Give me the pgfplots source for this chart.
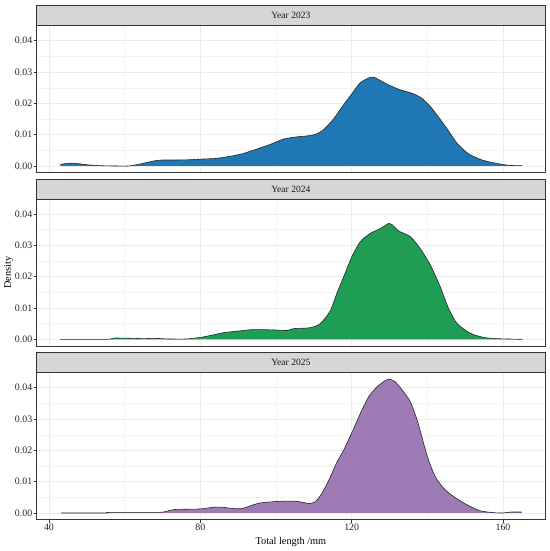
\documentclass[border=0pt]{standalone}
\usepackage{fontspec}
\setmainfont{Liberation Serif}
\usepackage{pgfplots}
\usepackage{pgfplotstable}
\pgfplotsset{compat=1.18}
\definecolor{cA}{HTML}{1F77B4}
\definecolor{cB}{HTML}{1F9D55}
\definecolor{cC}{HTML}{9E7BB5}
\definecolor{stripc}{HTML}{D6D6D6}
\definecolor{frame}{HTML}{333333}
\definecolor{gmaj}{HTML}{EBEBEB}
\definecolor{gmin}{HTML}{F3F3F3}

\pgfplotstableread{
x y
43.0 0.0005
45.5 0.0009
48.0 0.0007
50.0 0.0004
53.5 0.0001
57.0 0.0000
61.0 0.0000
64.0 0.0006
67.6 0.0016
69.8 0.0019
73.0 0.0019
77.3 0.0020
80.0 0.0022
83.9 0.0024
87.9 0.0031
91.4 0.0040
94.9 0.0054
98.5 0.0069
102.0 0.0086
105.5 0.0093
108.2 0.0096
110.4 0.0101
112.6 0.0116
115.2 0.0150
117.9 0.0196
120.0 0.0230
122.3 0.0266
124.9 0.0283
126.2 0.0282
128.9 0.0264
132.4 0.0245
136.0 0.0232
138.6 0.0216
141.2 0.0184
144.8 0.0126
147.9 0.0072
151.0 0.0038
154.5 0.0019
158.0 0.0009
161.6 0.0002
165.1 0.0001
}\tA

\pgfplotstableread{
x y
43.0 0.0000
55.3 0.0000
57.3 0.0004
62.3 0.0003
65.0 0.0002
67.4 0.0003
70.0 0.0002
71.5 0.0001
76.4 0.0001
80.0 0.0006
82.6 0.0012
86.1 0.0021
90.5 0.0027
94.0 0.0031
99.3 0.0030
102.9 0.0028
104.6 0.0034
109.0 0.0037
111.7 0.0050
114.3 0.0090
116.1 0.0147
117.9 0.0200
120.1 0.0265
122.3 0.0312
124.9 0.0338
127.6 0.0354
129.8 0.0370
130.6 0.0367
132.4 0.0346
135.5 0.0328
138.1 0.0290
140.8 0.0237
143.4 0.0168
145.6 0.0099
147.8 0.0051
151.4 0.0019
154.9 0.0006
158.5 0.0002
165.1 0.0000
}\tB

\pgfplotstableread{
x y
43.2 0.0000
55.0 0.0000
56.0 0.0002
69.0 0.0002
71.5 0.0007
73.1 0.0011
76.0 0.0012
80.0 0.0013
83.9 0.0019
86.1 0.0018
88.8 0.0014
91.0 0.0014
93.2 0.0023
95.8 0.0032
99.3 0.0036
102.9 0.0038
105.5 0.0037
107.5 0.0033
108.8 0.0030
110.4 0.0036
112.1 0.0062
114.3 0.0113
116.0 0.0160
117.9 0.0201
120.1 0.0258
122.3 0.0318
124.5 0.0371
126.7 0.0403
128.9 0.0423
130.0 0.0427
131.5 0.0419
133.7 0.0387
135.5 0.0355
137.3 0.0297
139.0 0.0223
140.3 0.0169
142.1 0.0116
144.3 0.0079
147.0 0.0052
150.5 0.0026
154.0 0.0007
157.6 0.0001
160.0 0.0000
162.0 0.0003
165.0 0.0003
}\tC

\pgfplotsset{
  facet/.style={
    scale only axis, width=508.3bp, height=147bp,
    xmin=36.75, xmax=171.1, ymin=-0.00214, ymax=0.0448,
    clip=false,
    xtick={40,80,120,160}, minor xtick={60,100,140},
    ytick={0,0.01,0.02,0.03,0.04}, minor ytick={0.005,0.015,0.025,0.035},
    xtick pos=bottom, ytick pos=left,
    scaled y ticks=false,
    yticklabel style={/pgf/number format/.cd, fixed, fixed zerofill, precision=2, /tikz/.cd},
    /pgf/number format/assume math mode=true,
    grid=both,
    major grid style={draw=gmaj, line width=0.7bp},
    minor grid style={draw=gmin, line width=0.4bp},
    axis line style={draw=frame, line width=0.9bp},
    tick align=outside,
    major tick length=3bp, minor tick length=0pt,
    tick style={draw=frame, line width=0.7bp},
    ticklabel style={font=\fontsize{9.9}{11}\selectfont, text=black!85},
    yticklabel style={anchor=east, inner sep=0pt, xshift=-1.3bp},
    xticklabel style={anchor=north, inner sep=0pt, yshift=-1.5bp},
  },
}
\newcommand{\drawstrip}[1]{%
  \draw[fill=stripc, draw=frame, line width=0.9bp] (rel axis cs:0,1) rectangle ([yshift=20bp]rel axis cs:1,1);
  \node[font=\fontsize{9.6}{11}\selectfont, text=black!90] at ([yshift=10bp]rel axis cs:0.5,1) {#1};
}

\begin{document}
\begin{tikzpicture}
\useasboundingbox (0,0) rectangle (550bp,551bp);

\begin{axis}[facet, at={(36.7bp,378.3bp)}, anchor=south west,
  xticklabels={}, xtick style={draw=none}]
  \addplot[fill=cA, draw=none, smooth, tension=0.4] table {\tA} \closedcycle;
  \addplot[draw=black!85, line width=0.6bp, smooth, tension=0.4] table {\tA};
  \drawstrip{Year 2023}
\end{axis}

\begin{axis}[facet, at={(36.7bp,205bp)}, anchor=south west,
  xticklabels={}, xtick style={draw=none},
  ylabel={Density},
  every axis y label/.style={at={([xshift=-28.2bp]rel axis cs:0,0.5)}, rotate=90, anchor=center,
    font=\fontsize{10.3}{12}\selectfont, text=black}]
  \addplot[fill=cB, draw=none, smooth, tension=0.4] table {\tB} \closedcycle;
  \addplot[draw=black!85, line width=0.6bp, smooth, tension=0.4] table {\tB};
  \drawstrip{Year 2024}
\end{axis}

\begin{axis}[facet, at={(36.7bp,31.3bp)}, anchor=south west,
  xlabel={Total length /mm},
  every axis x label/.style={at={([yshift=-22bp]rel axis cs:0.5,0)}, anchor=center,
    font=\fontsize{10.3}{12}\selectfont, text=black}]
  \addplot[fill=cC, draw=none, smooth, tension=0.4] table {\tC} \closedcycle;
  \addplot[draw=black!85, line width=0.6bp, smooth, tension=0.4] table {\tC};
  \drawstrip{Year 2025}
\end{axis}
\end{tikzpicture}
\end{document}
